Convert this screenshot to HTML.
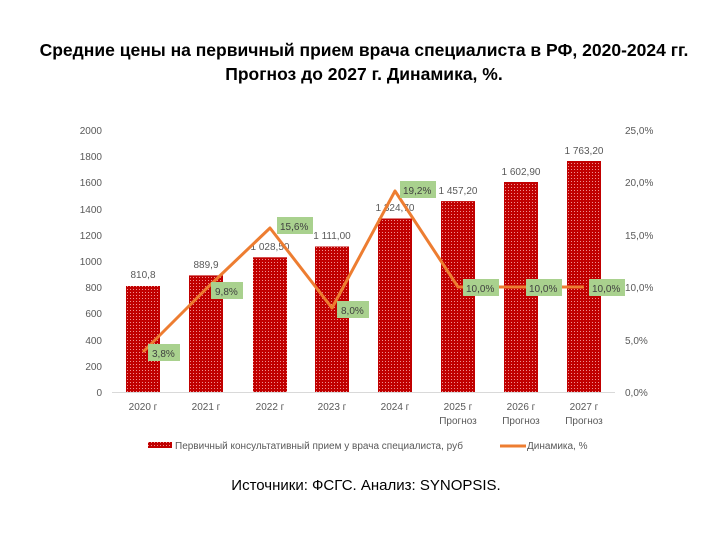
<!DOCTYPE html>
<html><head><meta charset="utf-8"><style>
body{margin:0;background:#fff;}
</style></head><body>
<svg width="728" height="530" xmlns="http://www.w3.org/2000/svg" font-family="Liberation Sans, sans-serif">
<defs>
<pattern id="p" width="3" height="3" patternUnits="userSpaceOnUse">
<rect width="3" height="3" fill="#c00000"/><rect x="1" y="1" width="1" height="1" fill="#f09090"/>
</pattern>
</defs>
<text x="364" y="56" text-anchor="middle" font-size="17.5" font-weight="bold" fill="#000">Средние цены на первичный прием врача специалиста в РФ, 2020-2024 гг.</text>
<text x="364" y="80" text-anchor="middle" font-size="17.5" font-weight="bold" fill="#000">Прогноз до 2027 г. Динамика, %.</text>
<g font-size="10" fill="#595959" text-anchor="end">
<text x="102" y="396">0</text><text x="102" y="370">200</text><text x="102" y="344">400</text><text x="102" y="317">600</text><text x="102" y="291">800</text><text x="102" y="265">1000</text><text x="102" y="239">1200</text><text x="102" y="213">1400</text><text x="102" y="186">1600</text><text x="102" y="160">1800</text><text x="102" y="134">2000</text>
</g>
<g font-size="10" fill="#595959" text-anchor="start">
<text x="625" y="396">0,0%</text><text x="625" y="344">5,0%</text><text x="625" y="291">10,0%</text><text x="625" y="239">15,0%</text><text x="625" y="186">20,0%</text><text x="625" y="134">25,0%</text>
</g>
<line x1="112" y1="392.5" x2="615" y2="392.5" stroke="#d9d9d9"/>
<g fill="url(#p)">
<rect x="126" y="286" width="34" height="106"/>
<rect x="189" y="275.4" width="34" height="116.6"/>
<rect x="253" y="257.3" width="34" height="134.7"/>
<rect x="315" y="246.5" width="34" height="145.5"/>
<rect x="378" y="218.5" width="34" height="173.5"/>
<rect x="441" y="201.1" width="34" height="190.9"/>
<rect x="504" y="182" width="34" height="210"/>
<rect x="567" y="161" width="34" height="231"/>
</g>
<g font-size="10" fill="#595959" text-anchor="middle">
<text x="143" y="278">810,8</text><text x="206" y="268">889,9</text><text x="270" y="250">1 028,50</text><text x="332" y="239">1 111,00</text><text x="395" y="211">1 324,70</text><text x="458" y="194">1 457,20</text><text x="521" y="175">1 602,90</text><text x="584" y="154">1 763,20</text>
</g>
<polyline points="143,352 206,289 270,228 332,308 395,191 458,287 521,287 584,287" fill="none" stroke="#ed7d31" stroke-width="3" stroke-linejoin="round"/>
<g font-size="10" fill="#404040">
<rect x="148" y="344" width="32" height="17" fill="#a9d18e"/><text x="152" y="357">3,8%</text>
<rect x="211" y="282" width="32" height="17" fill="#a9d18e"/><text x="215" y="295">9,8%</text>
<rect x="277" y="217" width="36" height="17" fill="#a9d18e"/><text x="280" y="230">15,6%</text>
<rect x="337" y="301" width="32" height="17" fill="#a9d18e"/><text x="341" y="314">8,0%</text>
<rect x="400" y="181" width="36" height="17" fill="#a9d18e"/><text x="403" y="194">19,2%</text>
<rect x="463" y="279" width="36" height="17" fill="#a9d18e"/><text x="466" y="292">10,0%</text>
<rect x="526" y="279" width="36" height="17" fill="#a9d18e"/><text x="529" y="292">10,0%</text>
<rect x="589" y="279" width="36" height="17" fill="#a9d18e"/><text x="592" y="292">10,0%</text>
</g>
<g font-size="10" fill="#595959" text-anchor="middle">
<text x="143" y="410">2020 г</text><text x="206" y="410">2021 г</text><text x="270" y="410">2022 г</text><text x="332" y="410">2023 г</text><text x="395" y="410">2024 г</text>
<text x="458" y="410">2025 г</text><text x="458" y="424">Прогноз</text>
<text x="521" y="410">2026 г</text><text x="521" y="424">Прогноз</text>
<text x="584" y="410">2027 г</text><text x="584" y="424">Прогноз</text>
</g>
<rect x="148" y="442" width="24" height="6" fill="url(#p)"/>
<text x="175" y="449" font-size="10" fill="#595959">Первичный консультативный прием у врача специалиста, руб</text>
<line x1="500" y1="446" x2="526" y2="446" stroke="#ed7d31" stroke-width="3"/>
<text x="527" y="449" font-size="10" fill="#595959">Динамика, %</text>
<text x="366" y="490" text-anchor="middle" font-size="15" fill="#000">Источники: ФСГС. Анализ: SYNOPSIS.</text>
</svg>
</body></html>
